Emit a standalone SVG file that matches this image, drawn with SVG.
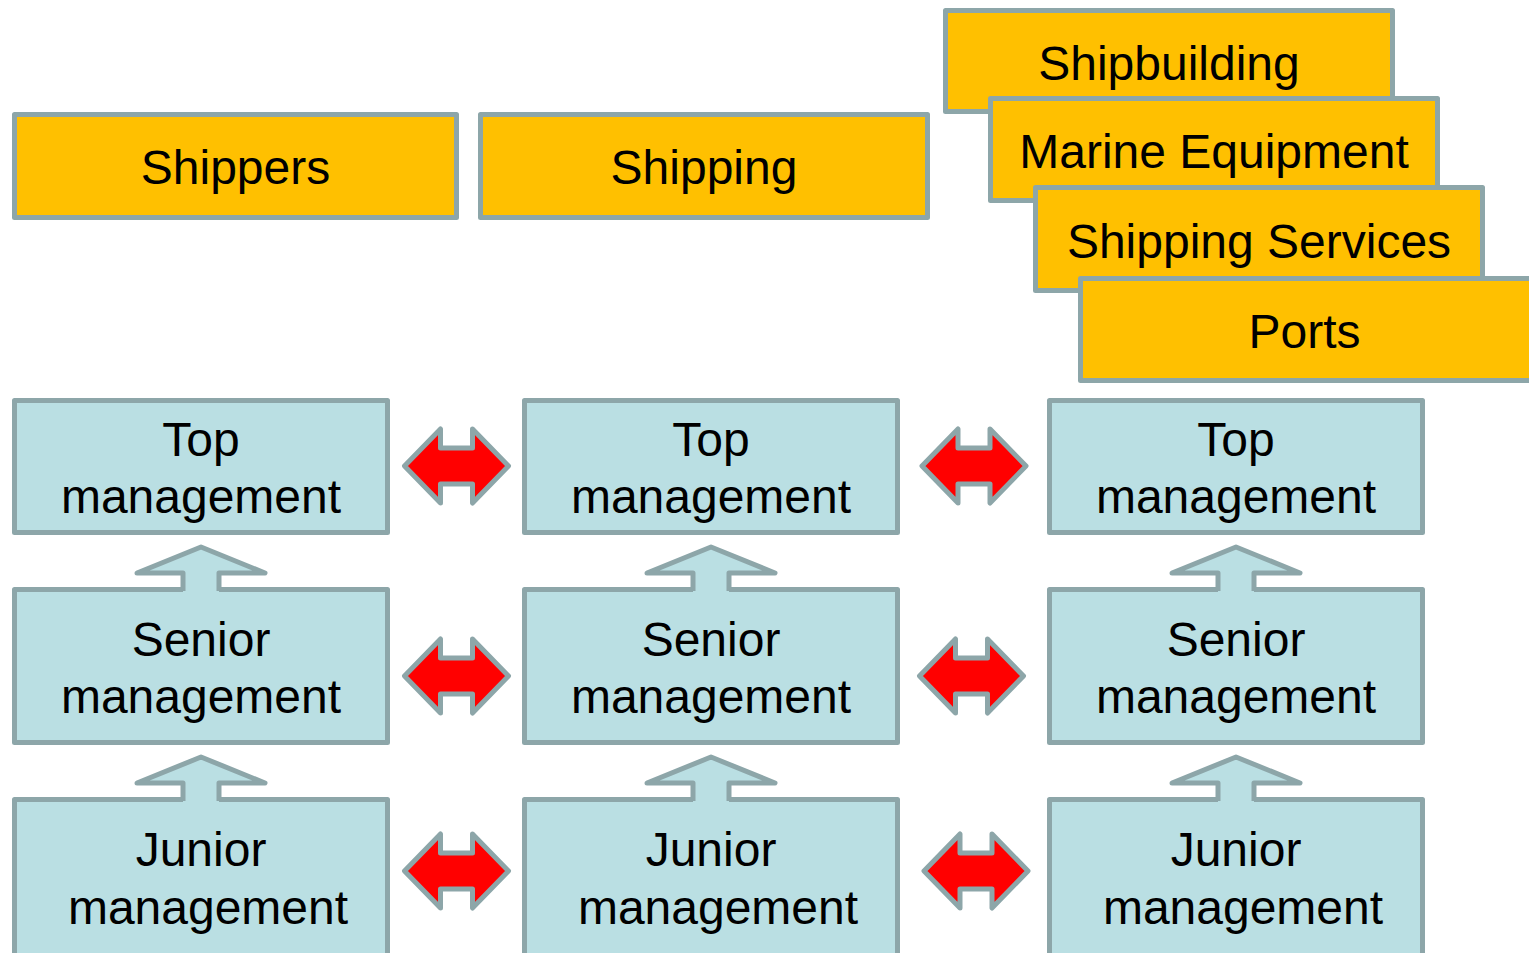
<svg xmlns="http://www.w3.org/2000/svg" width="1529" height="953" viewBox="0 0 1529 953">
<style>
.y{fill:#FFC000;stroke:#8DA6A9;stroke-width:5;stroke-linejoin:round}
.b{fill:#BADFE3;stroke:#8DA6A9;stroke-width:5;stroke-linejoin:round}
.t{font-family:"Liberation Sans",Arial,sans-serif;font-size:48px;fill:#000;text-anchor:middle}
.dbl{fill:#FF0000;stroke:#8DA6A9;stroke-width:5;stroke-linejoin:round}
.upf{fill:#BADFE3;stroke:none}
.ups{fill:none;stroke:#8DA6A9;stroke-width:5;stroke-linejoin:round}
</style>
<defs>
<path id="da" d="M-52,0 L-16,-37 L-16,-18 L16,-18 L16,-37 L52,0 L16,37 L16,18 L-16,18 L-16,37 Z"/>
<path id="uaf" d="M-18,4 L-18,-15 L-64,-15 L0,-41 L64,-15 L18,-15 L18,4 Z"/>
<path id="uas" d="M-18,3 L-18,-15 L-64,-15 L0,-41 L64,-15 L18,-15 L18,3"/>
</defs>
<rect width="1529" height="953" fill="#fff"/>

<g id="shippers"><rect class="y" x="14.5" y="114.5" width="442" height="103"/><text class="t" x="235.5" y="184">Shippers</text></g>
<g id="shipping"><rect class="y" x="480.5" y="114.5" width="447" height="103"/><text class="t" x="704" y="184">Shipping</text></g>
<g id="shipbuilding"><rect class="y" x="945.5" y="10.5" width="447" height="101"/><text class="t" x="1169" y="80">Shipbuilding</text></g>
<g id="marine"><rect class="y" x="990.5" y="98.5" width="447" height="102"/><text class="t" x="1214" y="168">Marine Equipment</text></g>
<g id="services"><rect class="y" x="1035.5" y="187.5" width="447" height="103"/><text class="t" x="1259" y="258">Shipping Services</text></g>
<g id="ports"><rect class="y" x="1080.5" y="278.5" width="453" height="102"/><text class="t" x="1304.5" y="348">Ports</text></g>

<g id="top1"><rect class="b" x="14.5" y="400.5" width="373" height="132"/><text class="t" x="201" y="456">Top</text><text class="t" x="201" y="513">management</text></g>
<g id="top2"><rect class="b" x="524.5" y="400.5" width="373" height="132"/><text class="t" x="711" y="456">Top</text><text class="t" x="711" y="513">management</text></g>
<g id="top3"><rect class="b" x="1049.5" y="400.5" width="373" height="132"/><text class="t" x="1236" y="456">Top</text><text class="t" x="1236" y="513">management</text></g>

<g id="senior1"><rect class="b" x="14.5" y="589.5" width="373" height="153"/><text class="t" x="201" y="656">Senior</text><text class="t" x="201" y="713">management</text></g>
<g id="senior2"><rect class="b" x="524.5" y="589.5" width="373" height="153"/><text class="t" x="711" y="656">Senior</text><text class="t" x="711" y="713">management</text></g>
<g id="senior3"><rect class="b" x="1049.5" y="589.5" width="373" height="153"/><text class="t" x="1236" y="656">Senior</text><text class="t" x="1236" y="713">management</text></g>

<g id="junior1"><rect class="b" x="14.5" y="799.5" width="373" height="166"/><text class="t" x="201" y="866">Junior</text><text class="t" x="208" y="924">management</text></g>
<g id="junior2"><rect class="b" x="524.5" y="799.5" width="373" height="166"/><text class="t" x="711" y="866">Junior</text><text class="t" x="718" y="924">management</text></g>
<g id="junior3"><rect class="b" x="1049.5" y="799.5" width="373" height="166"/><text class="t" x="1236" y="866">Junior</text><text class="t" x="1243" y="924">management</text></g>

<g id="connectors">
<g transform="translate(201,588)"><use href="#uaf" class="upf"/><use href="#uas" class="ups"/></g>
<g transform="translate(711,588)"><use href="#uaf" class="upf"/><use href="#uas" class="ups"/></g>
<g transform="translate(1236,588)"><use href="#uaf" class="upf"/><use href="#uas" class="ups"/></g>
<g transform="translate(201,798)"><use href="#uaf" class="upf"/><use href="#uas" class="ups"/></g>
<g transform="translate(711,798)"><use href="#uaf" class="upf"/><use href="#uas" class="ups"/></g>
<g transform="translate(1236,798)"><use href="#uaf" class="upf"/><use href="#uas" class="ups"/></g>

<use href="#da" class="dbl" transform="translate(456.5,466)"/>
<use href="#da" class="dbl" transform="translate(974,466)"/>
<use href="#da" class="dbl" transform="translate(456.5,676)"/>
<use href="#da" class="dbl" transform="translate(971.5,676)"/>
<use href="#da" class="dbl" transform="translate(456.5,871)"/>
<use href="#da" class="dbl" transform="translate(976,871)"/>
</g>
</svg>
